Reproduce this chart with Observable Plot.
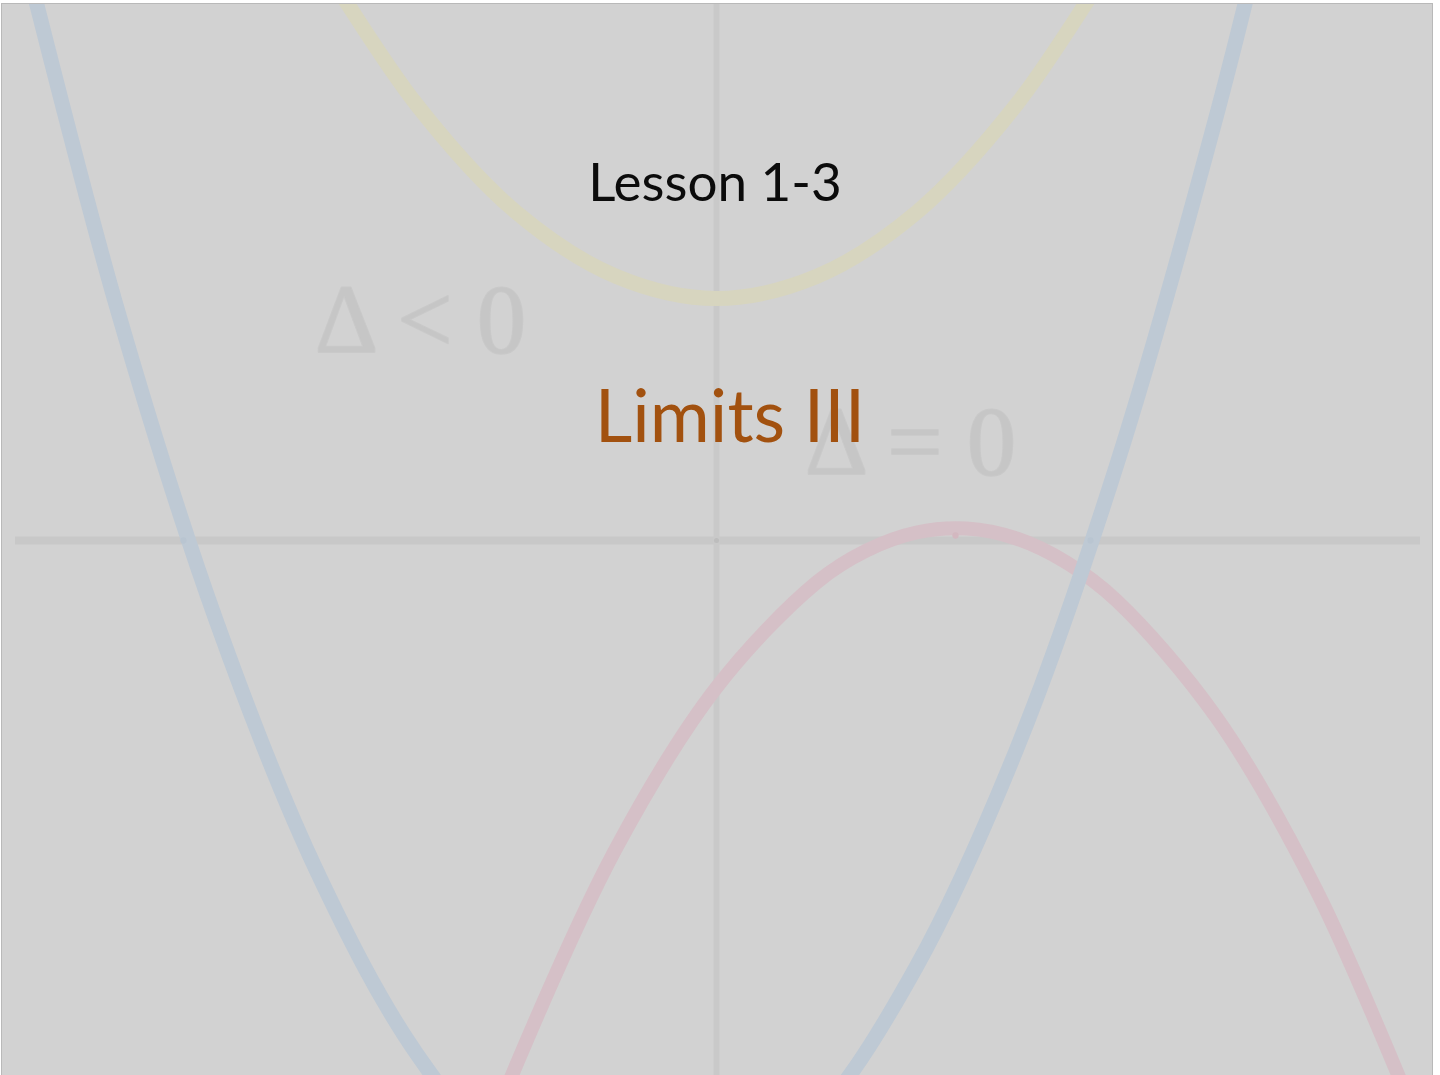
<!DOCTYPE html>
<html>
<head>
<meta charset="utf-8">
<script src="https://cdn.jsdelivr.net/npm/d3@7"></script>
<script src="https://cdn.jsdelivr.net/npm/@observablehq/plot@0.6"></script>
<style>
  html, body { margin: 0; padding: 0; background: #ffffff; width: 1440px; height: 1075px; overflow: hidden; }
  #slide { position: absolute; left: 1px; top: 3px; width: 1430px; height: 1072px;
           border-top: 1px solid #b9b9b9; border-left: 1px solid #b9b9b9; border-right: 1px solid #b9b9b9;
           background: #d2d2d2; overflow: hidden; }
  #chart svg { display: block; overflow: hidden; }
  .title { position: absolute; left: 0; width: 1430px; text-align: center; white-space: nowrap; font-family: Lato, "Open Sans", sans-serif; }
  #lesson { top: 145px; font-size: 53px; color: #0b0b0b; margin-left: -2px; }
  #limits { top: 366px; font-size: 73px; color: #a2510f; margin-left: 13px; }
</style>
</head>
<body>
<div id="slide">
  <div id="chart"></div>
  <div class="title" id="lesson">Lesson 1-3</div>
  <div class="title" id="limits">Limits III</div>
</div>
<script>
// Points (math units: origin at axis crossing)
const blueX  = [-7, -6, -5, -4, -3, -2, -1, 0, 1, 2, 3, 4, 5, 5.5];
const blueY  = [6.17, 2.34, -0.81, -3.3, -5.13, -6.29, -6.78, -6.61, -5.77, -4.26, -2.09, 0.75, 4.25, 6.25];
const yellowX = [-4, -3, -2, -1, 0, 1, 2, 3, 4];
const yellowY = [5.86, 4.36, 3.28, 2.64, 2.42, 2.64, 3.28, 4.36, 5.86];
const redX = [-2.5, -2, -1, 0, 1, 1.5, 2, 2.5, 3, 3.5, 4, 5, 6, 7];
const redY = [-6.53, -5.24, -3.07, -1.47, -0.42, -0.1, 0.08, 0.12, 0.02, -0.22, -0.6, -1.77, -3.5, -5.79];
const pointX = [-5.33, 0, 2.39, 3.74];
const pointY = [0, 0, 0.05, 0];
const pointKind = ["blue", "axis", "red", "blue"];
const labels = ["Δ < 0", "Δ = 0"];
const labelX = [-2.96, 1.94];
const labelY = [2.2, 0.98];

const toRows = (xs, ys) => xs.map((x, i) => ({x, y: ys[i]}));
const blue = toRows(blueX, blueY);
const yellow = toRows(yellowX, yellowY);
const red = toRows(redX, redY);
const pts = pointX.map((x, i) => ({x, y: pointY[i], kind: pointKind[i]}));
const ann = labels.map((t, i) => ({t, x: labelX[i], y: labelY[i]}));

const plot = Plot.plot({
  width: 1430,
  height: 1072,
  margin: 0,
  style: {background: "#d2d2d2", overflow: "hidden"},
  x: {domain: [-7.14, 7.16], axis: null},
  y: {domain: [-5.36, 5.36], axis: null},
  color: {domain: ["blue", "axis", "red"], range: ["#b9c5d1", "#bdbdbd", "#d3b8c0"]},
  marks: [
    Plot.ruleY([0], {stroke: "#c8c8c8", strokeWidth: 8, insetLeft: 13, insetRight: 12}),
    Plot.ruleX([0], {stroke: "#c9c9c9", strokeWidth: 6}),
    Plot.text(ann, {x: "x", y: "y", text: "t", fontFamily: "Liberation Serif, DejaVu Serif, serif",
      fontSize: 98, fill: "#c6c6c6", stroke: "#c9c9c9", strokeWidth: 2}),
    Plot.line(yellow, {x: "x", y: "y", curve: "catmull-rom", stroke: "#d7d5bf", strokeWidth: 15}),
    Plot.line(red, {x: "x", y: "y", curve: "catmull-rom", stroke: "#d5c0c7", strokeWidth: 14}),
    Plot.line(blue, {x: "x", y: "y", curve: "catmull-rom", stroke: "#bec9d4", strokeWidth: 15}),
    Plot.dot(pts, {x: "x", y: "y", r: d => d.kind === "axis" ? 7 : 11, fill: "kind", stroke: "none"})
  ]
});
document.getElementById("chart").appendChild(plot);
</script>
</body>
</html>
